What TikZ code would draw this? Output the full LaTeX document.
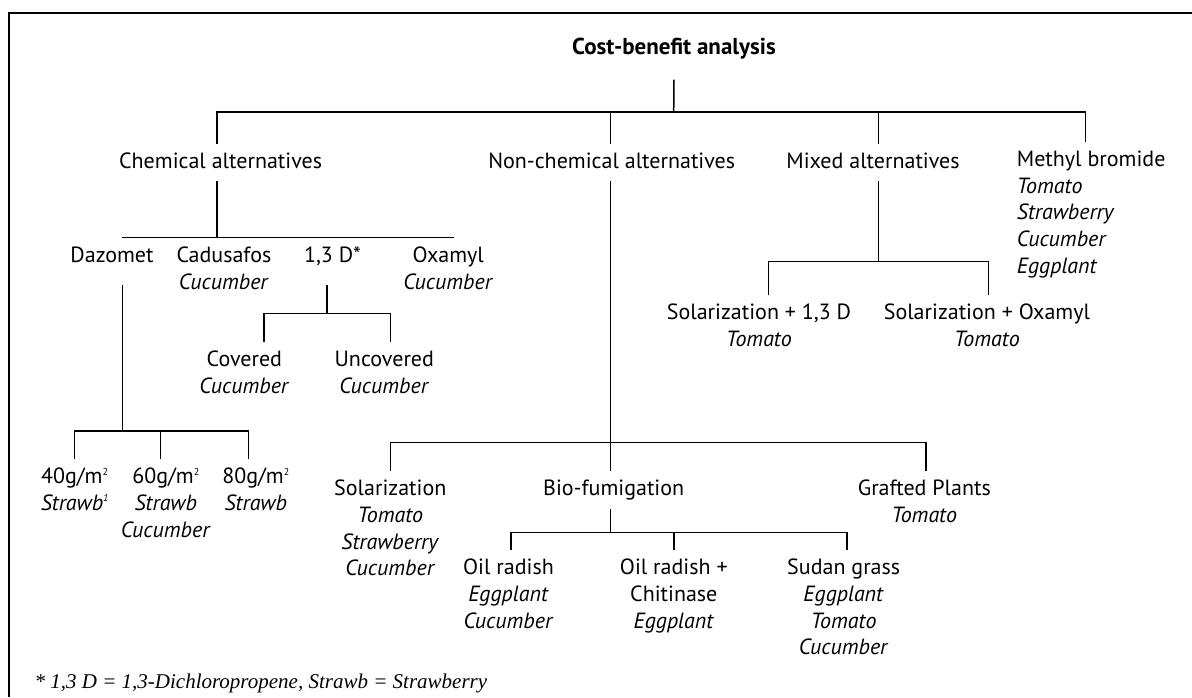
\documentclass[tikz,border=0pt]{standalone}
\usepackage{fontspec}
\setmainfont{PT Sans}
\newfontfamily\notefont{Liberation Serif}

\newcommand{\lblsize}{\fontsize{22}{26.7}\selectfont}
\newcommand{\smallsup}[1]{\raisebox{8.5pt}{\fontsize{10}{10}\selectfont #1}}

\begin{document}
\begin{tikzpicture}[
    x=1pt, y=-1pt,
    lbl/.style={inner xsep=0pt, inner ysep=9pt, outer sep=0pt, anchor=north, align=center, font=\lblsize},
    branch/.style={line width=1.5pt},
    frame/.style={line width=1.8pt},
]
\useasboundingbox (0,0) rectangle (1192,697);

% Frame (open at right and bottom)
\draw[frame] (9.2,697) -- (9.2,12.7) -- (1192,12.7);

% Title
\node[lbl, anchor=base, font=\fontsize{23}{26.7}\selectfont\bfseries] (title) at (674,54) {Cost-benefit analysis};

% Level 1
\node[lbl] (chem) at (220.6,144) {Chemical alternatives};
\node[lbl] (nonchem) at (611.7,144) {Non-chemical alternatives};
\node[lbl] (mixed) at (873,144) {Mixed alternatives};
\node[lbl, anchor=north west, align=left] (meth) at (1016.9,142) {Methyl bromide\\\textit{Tomato}\\\textit{Strawberry}\\\textit{Cucumber}\\\textit{Eggplant}};

% Chemical alternatives
\node[lbl] (daz) at (112,238) {Dazomet};
\node[lbl] (cad) at (223.9,238) {Cadusafos\\\textit{Cucumber}};
\node[lbl] (d13) at (332.5,238) {1,3 D*};
\node[lbl] (oxa) at (448.3,238) {Oxamyl\\\textit{Cucumber}};

\node[lbl] (cov) at (244.4,342) {Covered\\\textit{Cucumber}};
\node[lbl] (uncov) at (384.3,342) {Uncovered\\\textit{Cucumber}};

\node[lbl] (g40) at (74.6,459) {40g/m\smallsup{2}\\\textit{Strawb\smallsup{1}}};
\node[lbl] (g60) at (165.8,459) {60g/m\smallsup{2}\\\textit{Strawb}\\\textit{Cucumber}};
\node[lbl] (g80) at (255.8,459) {80g/m\smallsup{2}\\\textit{Strawb}};

% Mixed alternatives
\node[lbl] (solD) at (759,295) {Solarization + 1,3 D\\\textit{Tomato}};
\node[lbl] (solO) at (986.9,295) {Solarization + Oxamyl\\\textit{Tomato}};

% Non-chemical alternatives
\node[lbl] (sol) at (390.3,471) {Solarization\\\textit{Tomato}\\\textit{Strawberry}\\\textit{Cucumber}};
\node[lbl] (bio) at (613.7,471) {Bio-fumigation};
\node[lbl] (graft) at (924.3,471) {Grafted Plants\\\textit{Tomato}};

\node[lbl] (oil) at (508.5,550) {Oil radish\\\textit{Eggplant}\\\textit{Cucumber}};
\node[lbl] (oilc) at (673.8,550) {Oil radish +\\Chitinase\\\textit{Eggplant}};
\node[lbl] (sudan) at (843.7,550) {Sudan grass\\\textit{Eggplant}\\\textit{Tomato}\\\textit{Cucumber}};

% Footnote
\node[anchor=base west, inner sep=0pt, font=\notefont\fontsize{21}{24}\selectfont\itshape] (note) at (34.4,688) {* 1,3 D = 1,3-Dichloropropene, Strawb = Strawberry};

% Bars
\coordinate (rootbar) at (673.7,112);
\coordinate (chembar) at (217,237.3);
\coordinate (d13bar) at (327.2,313.3);
\coordinate (dazbar) at (122.5,431);
\coordinate (mixbar) at (878.3,261.7);
\coordinate (ncbar) at (610.3,442.7);
\coordinate (biobar) at (610.3,532.7);

% Title to level 1
\draw[branch] ([yshift=-12pt]title.south) -- (rootbar);
\draw[branch] ([xshift=-3.6pt]chem.north) |- (rootbar);
\draw[branch] ([xshift=-1.4pt]nonchem.north) |- (rootbar);
\draw[branch] ([xshift=5.3pt]mixed.north) |- (rootbar);
\draw[branch] ([xshift=68.4pt]meth.north west) |- (rootbar);

% Chemical alternatives
\draw[branch] ([xshift=-3.6pt,yshift=-3pt]chem.south) -- (chembar);
\draw[branch] ([xshift=10.5pt]daz.north) |- (chembar);
\draw[branch] ([xshift=8.8pt]cad.north) |- (chembar);
\draw[branch] ([xshift=-5.3pt]d13.north) |- (chembar);
\draw[branch] ([xshift=5.2pt]oxa.north) |- (chembar);

\draw[branch] ([xshift=-5.3pt,yshift=-10pt]d13.south) -- (d13bar);
\draw[branch] ([xshift=19.6pt]cov.north) |- (d13bar);
\draw[branch] ([xshift=6pt]uncov.north) |- (d13bar);

\draw[branch] ([xshift=10.5pt,yshift=-13pt]daz.south) -- (dazbar);
\draw[branch] (g40.north) |- (dazbar);
\draw[branch] ([xshift=-5.1pt]g60.north) |- (dazbar);
\draw[branch] ([xshift=-7.1pt]g80.north) |- (dazbar);

% Mixed alternatives
\draw[branch] ([xshift=5.3pt,yshift=-3pt]mixed.south) -- (mixbar);
\draw[branch] ([xshift=9.5pt]solD.north) |- (mixbar);
\draw[branch] ([xshift=1.6pt]solO.north) |- (mixbar);

% Non-chemical alternatives
\draw[branch] ([xshift=-1.4pt,yshift=-3pt]nonchem.south) -- (ncbar);
\draw[branch] (sol.north) |- (ncbar);
\draw[branch] ([xshift=-3.4pt]bio.north) |- (ncbar);
\draw[branch] ([xshift=1.6pt]graft.north) |- (ncbar);

\draw[branch] ([xshift=-3.4pt]bio.south) -- (biobar);
\draw[branch] ([xshift=2.3pt]oil.north) |- (biobar);
\draw[branch] (oilc.north) |- (biobar);
\draw[branch] ([xshift=3.5pt]sudan.north) |- (biobar);

\end{tikzpicture}
\end{document}
